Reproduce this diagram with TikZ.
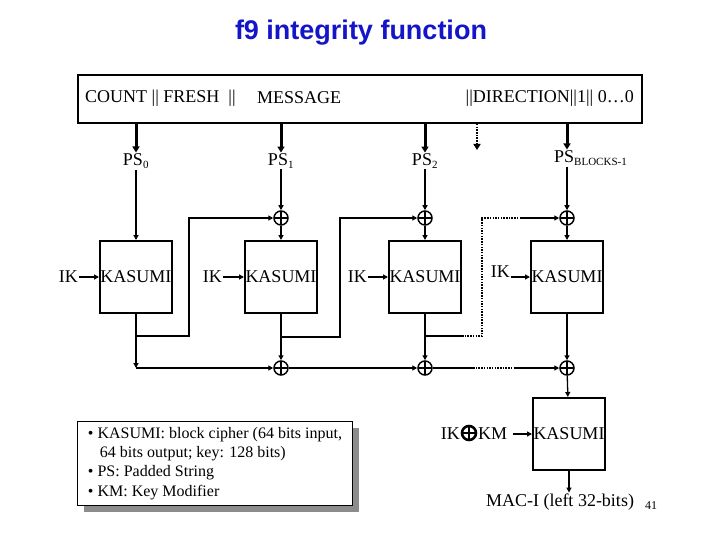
\documentclass[tikz,border=0pt]{standalone}
\usepackage{fontspec}
\setmainfont{Liberation Serif}
\newfontfamily\titlefont{Liberation Sans}
\usepackage{amsmath}
\usetikzlibrary{arrows.meta,shadows}
\definecolor{titleblue}{RGB}{20,20,200}

\begin{document}
\begin{tikzpicture}[x=1pt,y=-1pt,
    txt/.style={font=\fontsize{18}{22}\selectfont, inner sep=1pt},
    kasumi/.style={draw, line width=2pt, minimum width=72pt, minimum height=72pt, inner sep=0pt, font=\fontsize{18}{22}\selectfont},
    xor/.style={circle, draw, line width=1.5pt, minimum size=14pt, inner sep=0pt,
      path picture={\draw[line width=1.5pt] (path picture bounding box.north) -- (path picture bounding box.south)
        (path picture bounding box.west) -- (path picture bounding box.east);}},
    link/.style={line width=1.3pt, -{Triangle[length=5pt,width=5pt]}},
    heavy/.style={line width=3pt, -{Triangle[length=6pt,width=7pt]}},
    dotline/.style={line width=1.5pt, dash pattern=on 1.5pt off 1.2pt}
  ]
  \useasboundingbox (0,0) rectangle (720,540);

  \node[font=\titlefont\fontsize{27}{32}\selectfont\bfseries, text=titleblue] (title) at (361,33) {f9 integrity function};

  \node[draw, line width=2pt, minimum width=564pt, minimum height=48pt, anchor=north west] (msg) at (77,74) {};
  \node[txt, anchor=west] (count) at (84,98) {COUNT || FRESH \ ||};
  \node[txt, anchor=west] (mess) at (256,98) {MESSAGE};
  \node[txt, anchor=east] (dir) at (635,98) {||DIRECTION||1|| 0\dots0};

  \node[kasumi] (k1) at (136,277) {KASUMI};
  \node[kasumi] (k2) at (281,277) {KASUMI};
  \node[kasumi] (k3) at (425,277) {KASUMI};
  \node[kasumi] (k4) at (567,277) {KASUMI};
  \node[kasumi] (k5) at (569,434) {KASUMI};

  \node[txt] (ps0) at (136,161) {PS\textsubscript{\fontsize{11}{12}\selectfont 0}};
  \node[txt] (ps1) at (281,161) {PS\textsubscript{\fontsize{11}{12}\selectfont 1}};
  \node[txt] (ps2) at (425,161) {PS\textsubscript{\fontsize{11}{12}\selectfont 2}};
  \node[txt, anchor=west] (psb) at (553,158) {PS\textsubscript{\fontsize{11}{12}\selectfont BLOCKS-1}};

  \node[xor] (x1) at (281,218) {};
  \node[xor] (x2) at (425,218) {};
  \node[xor] (x3) at (567,218) {};
  \node[xor] (x4) at (281,368) {};
  \node[xor] (x5) at (425,368) {};
  \node[xor] (x6) at (567,368) {};

  \node[txt, anchor=east] (ik1) at (79,277) {IK};
  \node[txt, anchor=east] (ik2) at (223,277) {IK};
  \node[txt, anchor=east] (ik3) at (368,277) {IK};
  \node[txt, anchor=east] (ik4) at (511,272) {IK};
  \node[txt, anchor=east] (ik5) at (461,434) {IK};
  \node[xor, line width=2.6pt, minimum size=14pt] (xk) at (469,433) {};
  \node[txt, anchor=west] (km) at (477,434) {KM};

  \node[txt] (mac) at (560,502) {MAC-I (left 32-bits)};
  \node[font=\fontsize{12}{14}\selectfont] (page) at (651,506) {41};

  \node[draw, line width=1pt, fill=white, anchor=north west, minimum width=275pt, minimum height=84pt,
    inner xsep=9pt, align=left, font=\fontsize{16}{19.3}\selectfont,
    drop shadow={shadow xshift=6pt, shadow yshift=-6pt, fill=black!45, opacity=1}] (legend) at (77,421)
    {• KASUMI: block cipher (64 bits input,\\\hspace*{12pt}64 bits output; key: 128 bits)\\• PS: Padded String\\• KM: Key Modifier};

  \coordinate (dirtip) at (477,150);
  \coordinate (c1) at (136,368);
  \coordinate (b1) at (136,336);
  \coordinate (b2) at (281,337);
  \coordinate (b3) at (425,336);
  \coordinate (d1) at (462,336);
  \coordinate (d3) at (520,218);
  \coordinate (d4) at (473,368);
  \coordinate (d5) at (515,368);

  \draw[heavy] (msg.south -| ps0) -- (ps0);
  \draw[heavy] (msg.south -| ps1) -- (ps1);
  \draw[heavy] (msg.south -| ps2) -- (ps2);
  \draw[heavy] (msg.south -| x3) -- (psb.north -| x3);
  \draw[heavy, line width=2pt, dash pattern=on 1.5pt off 1.2pt] (msg.south -| dirtip) -- (dirtip);

  \draw[link] (ps0) -- (k1);
  \draw[link] (ps1) -- (x1);
  \draw[link] (x1) -- (k2);
  \draw[link] (ps2) -- (x2);
  \draw[link] (x2) -- (k3);
  \draw[link] (psb.south -| x3) -- (x3);
  \draw[link] (x3) -- (k4);

  \draw[link] (ik1) -- (k1);
  \draw[link] (ik2) -- (k2);
  \draw[link] (ik3) -- (k3);
  \draw[link] (ik4.east |- k4) -- (k4);
  \draw[link] (km.east |- k5) ++(5,0) -- (k5);

  \draw[link] (k1) -- (c1);
  \draw[link] (b1) -- ++(53,0) |- (x1);
  \draw[link] (b2) -- ++(59,0) |- (x2);
  \draw[line width=1.5pt] (b3) -- (d1);
  \draw[dotline] (d1) -- ++(20,0) |- (d3);
  \draw[link] (d3) -- (x3);

  \draw[link] (k2) -- (x4);
  \draw[link] (k3) -- (x5);
  \draw[link] (k4) -- (x6);
  \draw[link] (c1) -- (x4);
  \draw[link] (x4) -- (x5);
  \draw[line width=1.3pt] (x5) -- (d4);
  \draw[dotline] (d4) -- (d5);
  \draw[link] (d5) -- (x6);
  \draw[link] (x6) -- (k5);
  \draw[link] (k5) -- (k5.south |- mac.north);
\end{tikzpicture}
\end{document}
